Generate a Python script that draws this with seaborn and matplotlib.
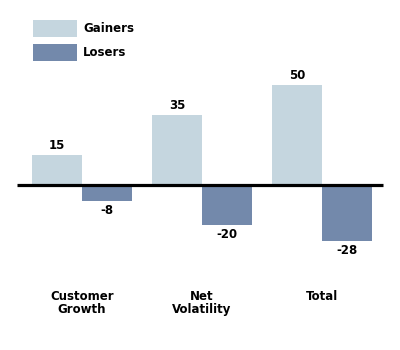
import matplotlib.pyplot as plt
import seaborn as sns
import pandas as pd

# Data
categories = ["Customer\nGrowth", "Net\nVolatility", "Total"]
gainers = [15, 35, 50]
losers = [-8, -20, -28]
series = ["Gainers", "Losers"]
colors = ["#c5d6df", "#7389ab"]

df = pd.DataFrame({
    "category": categories * 2,
    "value": gainers + losers,
    "series": [series[0]] * 3 + [series[1]] * 3,
})

sns.set_style("white")
plt.rcParams["font.family"] = ["DejaVu Sans"]
plt.rcParams["text.color"] = "black"
plt.rcParams["xtick.color"] = "black"

fig = plt.figure(figsize=(4, 3.5), dpi=100)
ax = fig.add_axes([0, 62 / 350, 1, 288 / 350])

sns.barplot(data=df, x="category", y="value", hue="series", palette=colors,
            width=0.833, saturation=1, linewidth=0, ax=ax, legend=True)

ax.set_xlim(-82 / 120, 318 / 120)
ax.set_ylim(-51.5, 92.5)

# zero line
ax.plot([-65 / 120, 301 / 120], [0, 0], color="black", lw=2.3,
        solid_capstyle="butt", zorder=5)

for c in ax.containers:
    ax.bar_label(c, padding=2.5, fontsize=8.5, fontweight="bold", color="black")

for s in ax.spines.values():
    s.set_visible(False)
ax.set_yticks([])
ax.set_xlabel("")
ax.set_ylabel("")
ax.tick_params(axis="x", length=0, pad=1.5)
for t in ax.get_xticklabels():
    t.set_fontsize(8.5)
    t.set_fontweight("bold")
    t.set_color("black")
    t.set_linespacing(0.95)

handles, labels = ax.get_legend_handles_labels()
leg = ax.legend(handles, labels, loc="upper left", bbox_to_anchor=(33 / 400, 1 - 20 / 350),
                bbox_transform=fig.transFigure, frameon=False,
                prop={"weight": "bold", "size": 8.5}, handlelength=3.7, handleheight=1.85,
                labelspacing=0.55, handletextpad=0.55, borderpad=0, borderaxespad=0)
for t in leg.get_texts():
    t.set_color("black")

fig.savefig("out.png", dpi=100)
